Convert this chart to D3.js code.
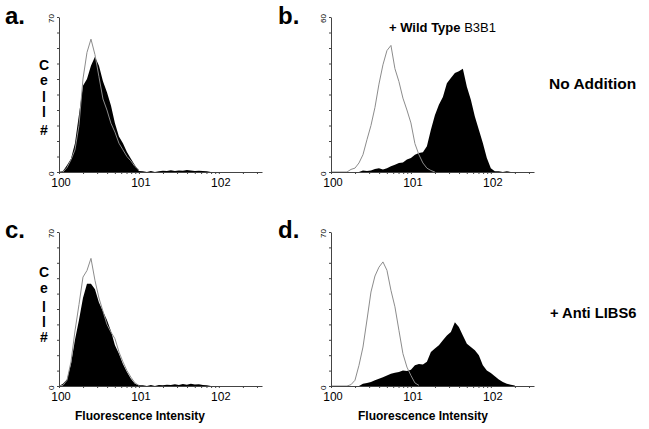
<!DOCTYPE html>
<html><head><meta charset="utf-8">
<script src="https://cdn.jsdelivr.net/npm/d3@7"></script>
<style>body{margin:0;background:#fff}svg{display:block}text{font-family:"Liberation Sans",Arial,Helvetica,sans-serif;fill:#000}</style>
</head><body><svg id="chart" width="649" height="429"></svg>
<script>
// bin width in log10 units; bin k sits at 10^(k*binStep)
const binStep = 0.05;
const decades = [0, 1, 2];
const yMaxLabels = [70, 60, 70, 70];
const panelLetters = ["a.", "b.", "c.", "d."];
const rowLabels = ["No Addition", "+ Anti LIBS6"];
const xTitle = "Fluorescence Intensity";
const cellLetters = ["C", "e", "l", "l", "#"];

// panel a (no addition, control mAb)
const aBlack = [0,0.5,3,6,13,26,39,42,48,52,48,41,36,30,22,16,13,9,6,3,0.5,
  0.3,0,0.4,0,0.3,0.6,0.4,0.8,0.5,0.7,0.6,0.9,0.7,0.5,0.6,0.4,0.3,0];
const aGray = [0,0,2,5.5,10,21,42,54,60,53,43,33,28,22,18,13,10,7,5,2.5,1];
// panel b (+ Wild Type B3B1)
const bBlack = [0,0,0,0,0,0,0,0,0.6,0.4,0.6,1.2,1.5,1,1.5,2.2,2.8,3.5,3.7,4.8,5.4,6.7,7.4,7.6,10,
  16.4,22,26,29,34.4,36.4,38.3,39,40,33,28,21.5,16.4,11.2,5.4,1.5,0.3,0.3,0,0.3,0];
const bGray = [0,0,0,0,0,1,1.5,3.5,6.7,12.5,18,25,34,41.5,47,49,40,35,28.6,24,19,11,6.7,3.5,1.5,0.6,0];
// panel c (+ anti LIBS6, control)
const cBlack = [0,1,3,10,21,30,40,46.5,46.5,44,38,34,30,25,18.5,14.7,10,6.4,3.3,1,0.3,
  0.3,0,0.5,0,0.4,0.3,0.6,0.4,0.8,0.5,0.9,0.6,1,0.7,0.8,0.5,0.3,0];
const cGray = [0,0.3,2.6,11,25,37,49.5,52.5,58,48,40,34,28,24.5,21.5,15.5,11,7,4,1.4,0.3];
// panel d (+ anti LIBS6, wild type)
const dBlack = [0,0,0,0,0,0,0,0,1,1.4,1.8,2.6,3.3,4,4.8,5.6,6,6.4,7,6.8,7.4,9.4,10,9.8,11,
  15.5,17,18.5,20.8,23,24.5,29,26.8,23,19.2,17.7,16.2,14,9.4,7,5.9,4.4,2.9,1.8,1,0.6,0.2];
const dGray = [0,0,0,0,0,0.6,2.6,9.4,17.7,30,42.7,50,54,56.4,52.6,43.5,36,25.3,14.7,8.6,4.8,1.4,0.3];

const blackSeries = [aBlack, bBlack, cBlack, dBlack];
const graySeries = [aGray, bGray, cGray, dGray];

const svg = d3.select("#chart");
const geo = [
  {x0: 59, x1: 262, top: 17, base: 172},
  {x0: 331, x1: 534, top: 17, base: 172},
  {x0: 59, x1: 262, top: 232, base: 386},
  {x0: 331, x1: 534, top: 232, base: 386}
];
const logMax = 2.54;

geo.forEach((g, i) => {
  const x = d3.scaleLog().domain([1, Math.pow(10, logMax)]).range([g.x0, g.x1]);
  const y = d3.scaleLinear().domain([0, yMaxLabels[i]]).range([g.base, g.top]);
  const toPts = arr => arr.map((v, k) => ({x: Math.pow(10, k * binStep), v}));
  const gp = svg.append("g");

  const area = d3.area().x(d => x(d.x)).y0(g.base).y1(d => y(d.v)).curve(d3.curveLinear);
  gp.append("path").datum(toPts(blackSeries[i])).attr("d", area).attr("fill", "#000");
  const line = d3.line().x(d => x(d.x)).y(d => y(d.v)).curve(d3.curveLinear);
  gp.append("path").datum(toPts(graySeries[i])).attr("d", line)
    .attr("fill", "none").attr("stroke", "#8c8c8c").attr("stroke-width", 1);

  // x axis with log minor ticks
  const tv = [];
  for (let d = 0; d < 3; d++) for (let m = 1; m < 10; m++) {
    const v = m * Math.pow(10, d);
    if (Math.log10(v) <= logMax) tv.push(v);
  }
  const xa = gp.append("g").attr("transform", `translate(0,${g.base})`)
    .call(d3.axisBottom(x).tickValues(tv).tickSize(2).tickSizeOuter(0).tickFormat(""));
  xa.selectAll("path,line").attr("stroke", "#444");

  const ya = gp.append("g").attr("transform", `translate(${g.x0},0)`)
    .call(d3.axisLeft(y).tickValues(d3.range(0, 11).map(t => t * yMaxLabels[i] / 10))
      .tickSize(2).tickSizeOuter(0).tickFormat(""));
  ya.selectAll("path,line").attr("stroke", "#444");

  decades.forEach(dd => {
    const t = gp.append("text").attr("x", x(Math.pow(10, dd)) + 2).attr("y", g.base + 15)
      .attr("text-anchor", "middle").attr("font-size", 12);
    t.append("tspan").text("10");
    t.append("tspan").attr("font-size", 11).attr("dy", -1).text(String(dd));
  });

  gp.append("text").attr("transform", `translate(${g.x0 - 5},${g.top + 6}) rotate(-90)`)
    .attr("font-size", 8).text(String(yMaxLabels[i]));
  gp.append("text").attr("transform", `translate(${g.x0 - 5},${g.base + 4}) rotate(-90)`)
    .attr("font-size", 8).text("0");

  gp.append("text").attr("x", i % 2 === 0 ? 5 : 278).attr("y", i < 2 ? 24 : 238)
    .attr("font-size", 24).attr("font-weight", "bold").text(panelLetters[i]);
});

// Cell # labels
const cellBase = [[70, 85, 102, 117, 135], [277, 293, 312, 327, 342]];
cellBase.forEach(rows => {
  cellLetters.forEach((ch, j) => {
    svg.append("text").attr("x", 44).attr("y", rows[j]).attr("text-anchor", "middle")
      .attr("font-size", 14).attr("font-weight", "bold").text(ch);
  });
});

// Wild type annotation
const wt = svg.append("text").attr("x", 389).attr("y", 32).attr("font-size", 13);
wt.append("tspan").attr("font-weight", "bold").text("+ Wild Type ");
wt.append("tspan").text("B3B1");

svg.append("text").attr("x", 549).attr("y", 89).attr("font-size", 15.5).attr("font-weight", "bold").text(rowLabels[0]);
svg.append("text").attr("x", 550).attr("y", 318).attr("font-size", 14.7).attr("font-weight", "bold").text(rowLabels[1]);

svg.append("text").attr("x", 140).attr("y", 420).attr("text-anchor", "middle").attr("font-size", 12).attr("font-weight", "bold").text(xTitle);
svg.append("text").attr("x", 423).attr("y", 420).attr("text-anchor", "middle").attr("font-size", 12).attr("font-weight", "bold").text(xTitle);
</script></body></html>
